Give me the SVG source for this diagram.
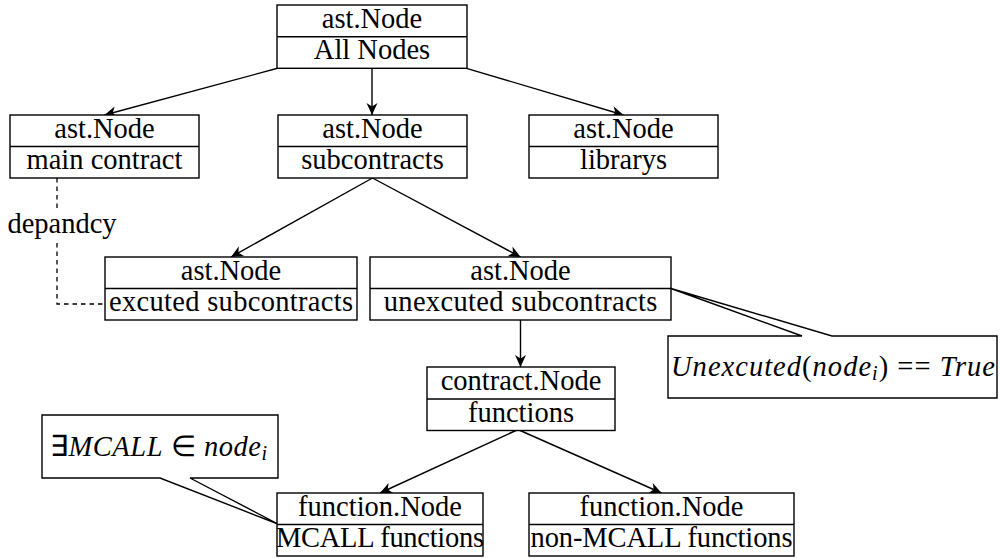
<svg xmlns="http://www.w3.org/2000/svg" width="1000" height="558" viewBox="0 0 1000 558">
<style>
.box{fill:#fff;stroke:#000;stroke-width:1.4}
.div{stroke:#000;stroke-width:1.4}
.edge{stroke:#000;stroke-width:1.4;fill:none;marker-end:url(#arr)}
.dash{stroke:#000;stroke-width:1.3;fill:none;stroke-dasharray:4.5 4}
.call{fill:#fff;stroke:#000;stroke-width:1.4;stroke-linejoin:miter}
</style>
<defs>
<marker id="arr" markerUnits="userSpaceOnUse" viewBox="-13 -7 14 14" refX="0" refY="0" markerWidth="14" markerHeight="14" orient="auto">
<path d="M0,0 L-12,-5.5 L-8.5,0 L-12,5.5 Z" fill="#000"/>
</marker>
</defs>
<rect width="1000" height="558" fill="#fff"/>

<g id="connectors">
<line class="edge" x1="277.5" y1="68.3" x2="104.5" y2="115"/>
<line class="edge" x1="372" y1="68.3" x2="372" y2="115"/>
<line class="edge" x1="466.5" y1="68.3" x2="623.5" y2="115"/>
<line class="edge" x1="372.5" y1="178" x2="231" y2="257"/>
<line class="edge" x1="372.5" y1="178" x2="520.5" y2="257"/>
<line class="edge" x1="520.5" y1="320" x2="520.5" y2="367"/>
<line class="edge" x1="517" y1="430" x2="380" y2="493"/>
<line class="edge" x1="519" y1="430" x2="661.5" y2="493"/>
<g id="dependency">
<path class="dash" d="M57,178 V212"/>
<path class="dash" d="M57,243 V304 H105"/>
<text font-family="Liberation Serif" font-size="28.5" text-anchor="middle" x="62" y="233">depandcy</text>
</g>
</g>

<g id="node-all">
<rect class="box" x="277" y="5" width="190" height="63.3"/>
<line class="div" x1="277" y1="36.7" x2="467" y2="36.7"/>
<text font-family="Liberation Serif" font-size="28.5" text-anchor="middle" x="372" y="27.5">ast.Node</text>
<text font-family="Liberation Serif" font-size="28.5" text-anchor="middle" x="372" y="59">All Nodes</text>
</g>

<g id="node-main">
<rect class="box" x="10" y="115" width="189" height="63"/>
<line class="div" x1="10" y1="146.5" x2="199" y2="146.5"/>
<text font-family="Liberation Serif" font-size="28.5" text-anchor="middle" x="104.5" y="137.5">ast.Node</text>
<text font-family="Liberation Serif" font-size="28.5" text-anchor="middle" x="104.5" y="169">main contract</text>
</g>

<g id="node-sub">
<rect class="box" x="278" y="115" width="189" height="63"/>
<line class="div" x1="278" y1="146.5" x2="467" y2="146.5"/>
<text font-family="Liberation Serif" font-size="28.5" text-anchor="middle" x="372.5" y="137.5">ast.Node</text>
<text font-family="Liberation Serif" font-size="28.5" text-anchor="middle" x="372.5" y="169">subcontracts</text>
</g>

<g id="node-lib">
<rect class="box" x="529" y="115" width="189" height="63"/>
<line class="div" x1="529" y1="146.5" x2="718" y2="146.5"/>
<text font-family="Liberation Serif" font-size="28.5" text-anchor="middle" x="623.5" y="137.5">ast.Node</text>
<text font-family="Liberation Serif" font-size="28.5" text-anchor="middle" x="623.5" y="169">librarys</text>
</g>

<g id="node-exec">
<rect class="box" x="105" y="257" width="252" height="63"/>
<line class="div" x1="105" y1="288.5" x2="357" y2="288.5"/>
<text font-family="Liberation Serif" font-size="28.5" text-anchor="middle" x="231" y="279.5">ast.Node</text>
<text font-family="Liberation Serif" font-size="28.5" text-anchor="middle" x="231" y="311" textLength="244">excuted subcontracts</text>
</g>

<g id="node-unexec">
<rect class="box" x="370" y="257" width="301" height="63"/>
<line class="div" x1="370" y1="288.5" x2="671" y2="288.5"/>
<text font-family="Liberation Serif" font-size="28.5" text-anchor="middle" x="520.5" y="279.5">ast.Node</text>
<text font-family="Liberation Serif" font-size="28.5" text-anchor="middle" x="520.5" y="311" textLength="273.5">unexcuted subcontracts</text>
</g>

<g id="callout-unexec">
<path class="call" d="M668,336 H802 L671,288.5 L832,336 H997 V398 H668 Z"/>
<text font-family="Liberation Serif" font-size="28.5" x="671" y="376" textLength="324"><tspan font-style="italic">Unexcuted</tspan>(<tspan font-style="italic">node</tspan><tspan font-style="italic" font-size="20" dy="4">i</tspan><tspan dy="-4">) == </tspan><tspan font-style="italic">True</tspan></text>
</g>

<g id="node-contract">
<rect class="box" x="427" y="367" width="188" height="63.5"/>
<line class="div" x1="427" y1="399" x2="615" y2="399"/>
<text font-family="Liberation Serif" font-size="28.5" text-anchor="middle" x="521" y="390">contract.Node</text>
<text font-family="Liberation Serif" font-size="28.5" text-anchor="middle" x="521" y="421.5">functions</text>
</g>

<g id="callout-mcall">
<path class="call" d="M42,415 H278 V478 H190 L278,524 L160,478 H42 Z"/>
<text font-family="Liberation Serif" font-size="28.5" x="50" y="456" textLength="217">∃<tspan font-style="italic">MCALL</tspan> ∈ <tspan font-style="italic">node</tspan><tspan font-style="italic" font-size="20" dy="4">i</tspan></text>
</g>

<g id="node-mcall">
<rect class="box" x="277" y="493" width="206" height="63"/>
<line class="div" x1="277" y1="524.5" x2="483" y2="524.5"/>
<text font-family="Liberation Serif" font-size="28.5" text-anchor="middle" x="380" y="515.5">function.Node</text>
<text font-family="Liberation Serif" font-size="28.5" text-anchor="middle" x="380" y="547" textLength="208">MCALL functions</text>
</g>

<g id="node-nonmcall">
<rect class="box" x="529" y="493" width="265" height="63"/>
<line class="div" x1="529" y1="524.5" x2="794" y2="524.5"/>
<text font-family="Liberation Serif" font-size="28.5" text-anchor="middle" x="661.5" y="515.5">function.Node</text>
<text font-family="Liberation Serif" font-size="28.5" text-anchor="middle" x="661.5" y="547" textLength="262">non-MCALL functions</text>
</g>
</svg>
